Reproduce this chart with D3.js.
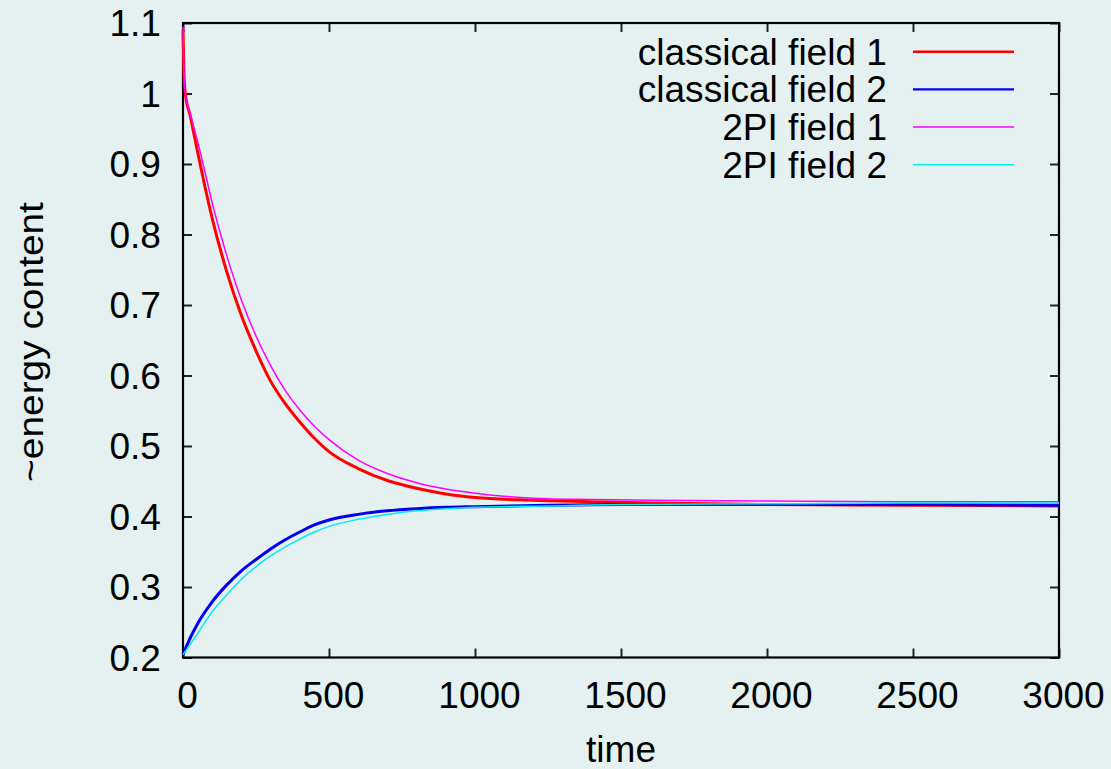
<!DOCTYPE html>
<html>
<head>
<meta charset="utf-8">
<script src="https://cdn.jsdelivr.net/npm/d3@7"></script>
<style>
  html, body { margin: 0; padding: 0; background: #e5f0f0; }
  svg { display: block; }
  text { font-family: "Liberation Sans", Arial, sans-serif; fill: #000; }
</style>
</head>
<body>
<svg id="chart" width="1111" height="769"></svg>
<script>
// Time samples and energy content of each field
const timeField1 = [0, 3, 8, 25, 50, 75, 100, 150, 200, 250, 300, 350, 400, 450, 500, 600, 700, 800, 900, 1000, 1200, 1400, 1600, 2000, 2500, 3000];
const classicalField1 = [1.09, 1.03, 1.0, 0.968, 0.917, 0.868, 0.823, 0.747, 0.685, 0.635, 0.592, 0.560, 0.534, 0.511, 0.492, 0.468, 0.451, 0.440, 0.432, 0.427, 0.423, 0.421, 0.419, 0.417, 0.416, 0.415];
const twoPIField1 = [1.095, 1.03, 1.0, 0.971, 0.932, 0.889, 0.845, 0.770, 0.707, 0.656, 0.614, 0.579, 0.551, 0.528, 0.509, 0.480, 0.461, 0.448, 0.439, 0.433, 0.426, 0.424, 0.423, 0.422, 0.421, 0.421];

const timeField2 = [0, 25, 50, 100, 150, 200, 250, 300, 350, 400, 450, 500, 600, 700, 800, 900, 1000, 1250, 1500, 2000, 2500, 3000];
const classicalField2 = [0.204, 0.228, 0.248, 0.279, 0.303, 0.323, 0.339, 0.354, 0.367, 0.378, 0.388, 0.395, 0.403, 0.408, 0.411, 0.413, 0.414, 0.416, 0.417, 0.417, 0.417, 0.416];
const twoPIField2 = [0.204, 0.219, 0.234, 0.265, 0.289, 0.311, 0.329, 0.344, 0.357, 0.368, 0.378, 0.386, 0.396, 0.403, 0.408, 0.411, 0.413, 0.415, 0.417, 0.418, 0.419, 0.419];

const xTicks = [0, 500, 1000, 1500, 2000, 2500, 3000];
const yTicks = [0.2, 0.3, 0.4, 0.5, 0.6, 0.7, 0.8, 0.9, 1.0, 1.1];

const seriesNames = ["classical field 1", "classical field 2", "2PI field 1", "2PI field 2"];
const seriesColors = ["#ff0000", "#0000ee", "#ff00ff", "#00eeee"];
const seriesWidths = [3, 3, 1.5, 1.5];

const series = [
  { t: timeField1, v: classicalField1 },
  { t: timeField2, v: classicalField2 },
  { t: timeField1, v: twoPIField1 },
  { t: timeField2, v: twoPIField2 }
];

const svg = d3.select("#chart");
const plotLeft = 183, plotRight = 1059, plotTop = 23, plotBottom = 657.5;

const x = d3.scaleLinear().domain([0, 3000]).range([plotLeft, plotRight]);
const y = d3.scaleLinear().domain([0.2, 1.1]).range([plotBottom, plotTop]);

// Text is slightly stretched horizontally
const fontSize = 36;
const stretch = 1.03;
function label(g, px, py, str, anchor) {
  g.append("text")
    .attr("transform", `translate(${px},${py}) scale(${stretch},1)`)
    .attr("text-anchor", anchor)
    .style("font-size", fontSize + "px")
    .text(str);
}

const tickLen = 9;
const axes = svg.append("g");

// Mirrored inward ticks on all four sides
const bottomAxis = d3.axisBottom(x).tickValues(xTicks).tickSize(-tickLen).tickFormat("");
const topAxis = d3.axisTop(x).tickValues(xTicks).tickSize(-tickLen).tickFormat("");
const leftAxis = d3.axisLeft(y).tickValues(yTicks).tickSize(-tickLen).tickFormat("");
const rightAxis = d3.axisRight(y).tickValues(yTicks).tickSize(-tickLen).tickFormat("");

[[bottomAxis, `translate(0,${plotBottom})`], [topAxis, `translate(0,${plotTop})`],
 [leftAxis, `translate(${plotLeft},0)`], [rightAxis, `translate(${plotRight},0)`]].forEach(([ax, tr]) => {
  const g = axes.append("g").attr("transform", tr).call(ax);
  g.select(".domain").remove();
  g.selectAll(".tick line").attr("stroke", "#222").attr("stroke-width", 2);
});

// Plot frame
axes.append("rect")
  .attr("x", plotLeft).attr("y", plotTop)
  .attr("width", plotRight - plotLeft).attr("height", plotBottom - plotTop)
  .attr("fill", "none").attr("stroke", "#000").attr("stroke-width", 2.2);

// Tick labels
const labels = svg.append("g");
xTicks.forEach(v => label(labels, x(v) + 4.5, 707.5, String(v), "middle"));
yTicks.forEach(v => label(labels, 161, y(v) + 13, String(+v.toFixed(1)), "end"));

// Axis titles
label(labels, x(1500), 762, "time", "middle");
svg.append("text")
  .attr("transform", `translate(43,342) rotate(-90) scale(1.08,1)`)
  .attr("text-anchor", "middle")
  .style("font-size", fontSize + "px")
  .text("~energy content");

// Curves
const plot = svg.append("g");
series.forEach((s, i) => {
  const pts = s.t.map((t, j) => [t, s.v[j]]);
  plot.append("path")
    .datum(pts)
    .attr("fill", "none")
    .attr("stroke", seriesColors[i])
    .attr("stroke-width", seriesWidths[i])
    .attr("stroke-linejoin", "round")
    .attr("d", d3.line().x(d => x(d[0])).y(d => y(d[1])).curve(d3.curveMonotoneX));
});

// Legend
const legend = svg.append("g");
seriesNames.forEach((name, i) => {
  const ly = 51.7 + i * 37.7;
  label(legend, 887, ly + 13, name, "end");
  legend.append("line")
    .attr("x1", 913).attr("x2", 1014)
    .attr("y1", ly).attr("y2", ly)
    .attr("stroke", seriesColors[i])
    .attr("stroke-width", i < 2 ? 2.4 : 1.5);
});
</script>
</body>
</html>
